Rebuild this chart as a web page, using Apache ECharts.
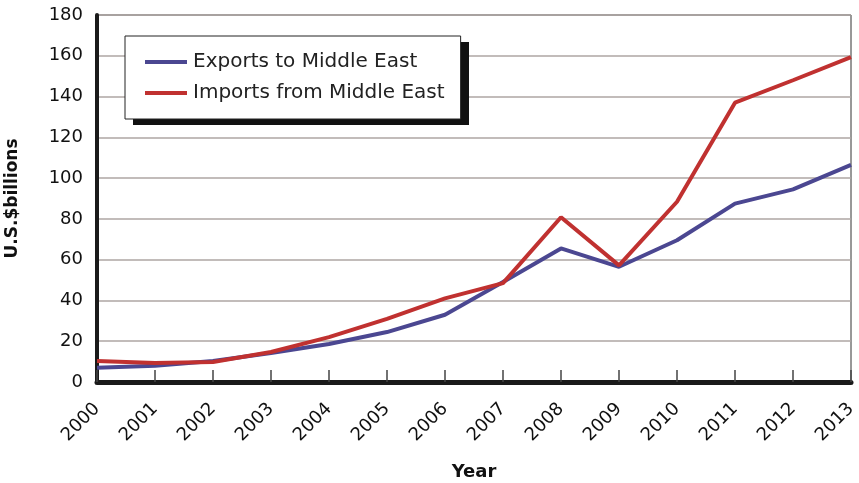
<!DOCTYPE html>
<html>
<head>
<meta charset="utf-8">
<script src="https://cdn.jsdelivr.net/npm/echarts@6/dist/echarts.min.js"></script>
<style>
  html, body { margin: 0; padding: 0; background: #fff; }
  #chart { width: 859px; height: 483px; }
</style>
</head>
<body>
<div id="chart"></div>
<script>
var years = ['2000', '2001', '2002', '2003', '2004', '2005', '2006',
             '2007', '2008', '2009', '2010', '2011', '2012', '2013'];
var exportsME = [7, 8, 10.3, 14.2, 18.6, 24.5, 33, 49, 65.5, 56.5, 69.5, 87.5, 94.5, 106.5];
var importsME = [10.3, 9.3, 9.8, 14.7, 22, 31, 41, 48.5, 80.8, 57.2, 88.4, 137, 148, 159.3];

var font = '"DejaVu Sans", Verdana, sans-serif';

var chart = echarts.init(document.getElementById('chart'));
var option = {
    backgroundColor: '#fff',
    animation: false,
    grid: {
        left: 97,
        right: 8,
        top: 15,
        bottom: 101,
        outerBoundsMode: 'none',
        containLabel: false,
        show: true,
        borderColor: '#333',
        borderWidth: 1
    },
    // drop shadow behind the legend box
    graphic: [{
        type: 'rect',
        left: 133,
        top: 42,
        z: 3,
        shape: { width: 336, height: 83 },
        style: { fill: '#111' },
        silent: true
    }],
    legend: {
        left: 125,
        top: 36,
        orient: 'vertical',
        padding: [16, 16, 16, 20],
        itemGap: 11,
        itemWidth: 42,
        itemHeight: 4,
        backgroundColor: '#fff',
        borderColor: '#222',
        borderWidth: 1,
        icon: 'rect',
        textStyle: { fontFamily: font, fontSize: 20, color: '#222', padding: [0, 0, 0, 1] },
        data: ['Exports to Middle East', 'Imports from Middle East']
    },
    xAxis: {
        type: 'category',
        data: years,
        boundaryGap: false,
        name: 'Year',
        nameLocation: 'middle',
        nameGap: 81,
        nameTextStyle: { fontFamily: font, fontSize: 18, fontWeight: 'bold', color: '#111' },
        axisLine: { lineStyle: { color: '#1a1a1a', width: 5 } },
        axisTick: { inside: true, length: 12, lineStyle: { color: '#444', width: 1.5 } },
        axisLabel: { rotate: 45, margin: 24, fontFamily: font, fontSize: 18, color: '#111' },
        splitLine: { show: false }
    },
    yAxis: {
        type: 'value',
        min: 0,
        max: 180,
        interval: 20,
        name: 'U.S.$billions',
        nameLocation: 'middle',
        nameGap: 76,
        nameTextStyle: { fontFamily: font, fontSize: 17, fontWeight: 'bold', color: '#111' },
        axisLine: { show: true, lineStyle: { color: '#1a1a1a', width: 4 } },
        axisTick: { show: false },
        axisLabel: { margin: 14, fontFamily: font, fontSize: 18, color: '#111' },
        splitLine: { lineStyle: { color: '#aea6a3', width: 1.5 } }
    },
    series: [
        {
            name: 'Exports to Middle East',
            type: 'line',
            data: exportsME,
            symbol: 'none',
            color: '#4b4791',
            lineStyle: { width: 4, color: '#4b4791' }
        },
        {
            name: 'Imports from Middle East',
            type: 'line',
            data: importsME,
            symbol: 'none',
            color: '#c03130',
            lineStyle: { width: 4, color: '#c03130' }
        }
    ]
};
chart.setOption(option);
</script>
</body>
</html>
